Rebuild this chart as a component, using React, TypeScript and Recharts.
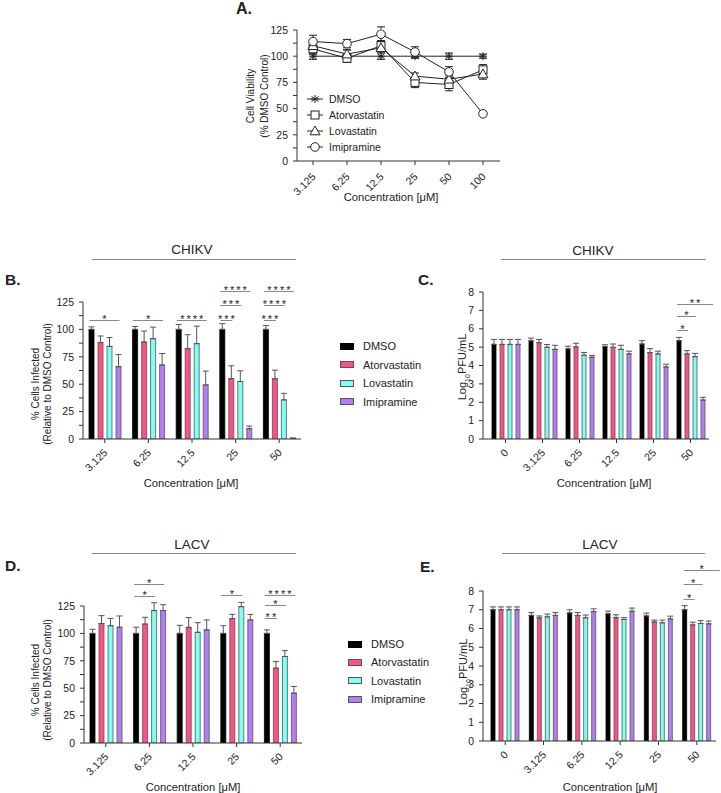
import { LineChart, Line, BarChart, Bar, XAxis, YAxis, ErrorBar } from 'recharts'

const FONT = '"Liberation Sans", Arial, Helvetica, sans-serif'
const INK = '#222'
const AXIS = '#333'

// series shared by every panel
const drugs = ['DMSO', 'Atorvastatin', 'Lovastatin', 'Imipramine']
const drugKeys = ['dmso', 'ator', 'lova', 'imip']
const markerShapes = ['star', 'square', 'triangle', 'circle']
const barFills = ['#000000', '#ff4f86', '#7ffff4', '#b57cf7']
const barEdges = ['#000000', '#555555', '#555555', '#555555']

// A. cell viability (% DMSO control)
const viabilityDoses = ['3.125', '6.25', '12.5', '25', '50', '100']
const viabilityDmso = [100, 100, 100, 100, 100, 100]
const viabilityDmsoErr = [3, 6, 3, 2, 3, 2]
const viabilityAtor = [107, 98, 110, 75, 73, 87]
const viabilityAtorErr = [5, 3, 5, 5, 6, 5]
const viabilityLova = [110, 102, 108, 81, 78, 83]
const viabilityLovaErr = [6, 4, 4, 3, 4, 5]
const viabilityImip = [114, 112, 121, 104, 85, 45]
const viabilityImipErr = [6, 4, 7, 5, 5, 1]

// B. CHIKV % cells infected
const infectDoses = ['3.125', '6.25', '12.5', '25', '50']
const chikvInfDmso = [100, 100, 100, 100, 100]
const chikvInfDmsoErr = [2.3, 2.6, 4.4, 5.3, 3.5]
const chikvInfAtor = [88, 88.5, 82.5, 55, 55]
const chikvInfAtorErr = [6, 10, 12.7, 11.8, 7.8]
const chikvInfLova = [84.5, 91.5, 87, 52.5, 35.7]
const chikvInfLovaErr = [8, 10.6, 16, 9.7, 6]
const chikvInfImip = [66, 67.5, 49.3, 9.4, 0.6]
const chikvInfImipErr = [11, 10.5, 12.7, 2.4, 0.3]

// C. CHIKV titre (log10 PFU/mL)
const titreDoses = ['0', '3.125', '6.25', '12.5', '25', '50']
const chikvPfuDmso = [5.15, 5.34, 4.9, 5.03, 5.17, 5.35]
const chikvPfuDmsoErr = [0.27, 0.15, 0.15, 0.1, 0.18, 0.18]
const chikvPfuAtor = [5.15, 5.24, 5.01, 4.99, 4.7, 4.63]
const chikvPfuAtorErr = [0.27, 0.18, 0.2, 0.18, 0.22, 0.18]
const chikvPfuLova = [5.15, 4.99, 4.56, 4.88, 4.63, 4.48]
const chikvPfuLovaErr = [0.27, 0.15, 0.15, 0.22, 0.15, 0.18]
const chikvPfuImip = [5.15, 4.88, 4.45, 4.63, 3.92, 2.12]
const chikvPfuImipErr = [0.27, 0.22, 0.1, 0.15, 0.15, 0.15]

// D. LACV % cells infected
const lacvInfDmso = [100, 100, 100, 100, 100]
const lacvInfDmsoErr = [3.8, 5.6, 7.4, 7, 3.2]
const lacvInfAtor = [109, 108.5, 105.5, 113.5, 68.3]
const lacvInfAtorErr = [7.2, 6.2, 8.9, 3.9, 6]
const lacvInfLova = [107, 120.8, 101, 124.4, 78.9]
const lacvInfLovaErr = [6.7, 7.2, 8.8, 3.9, 5.4]
const lacvInfImip = [105.6, 120.8, 103.2, 112.3, 45.5]
const lacvInfImipErr = [10.3, 5.4, 9.1, 5.1, 6.1]

// E. LACV titre (log10 PFU/mL)
const lacvPfuDmso = [7.0, 6.7, 6.83, 6.78, 6.67, 7.0]
const lacvPfuDmsoErr = [0.15, 0.15, 0.17, 0.15, 0.15, 0.22]
const lacvPfuAtor = [7.0, 6.57, 6.7, 6.58, 6.35, 6.19]
const lacvPfuAtorErr = [0.15, 0.1, 0.15, 0.15, 0.1, 0.15]
const lacvPfuLova = [7.0, 6.62, 6.57, 6.48, 6.3, 6.27]
const lacvPfuLovaErr = [0.15, 0.15, 0.15, 0.1, 0.15, 0.15]
const lacvPfuImip = [7.0, 6.7, 6.9, 6.92, 6.51, 6.25]
const lacvPfuImipErr = [0.15, 0.15, 0.15, 0.17, 0.15, 0.15]

// significance brackets: [dose index, compared series index, height (data units), label]
const chikvInfSig: [number, number, number, string][] = [
  [0, 3, 109, '*'], [1, 3, 109, '*'], [2, 3, 109, '****'],
  [3, 1, 109, '***'], [3, 2, 122.5, '***'], [3, 3, 135, '****'],
  [4, 1, 109, '***'], [4, 2, 122.5, '****'], [4, 3, 135, '****'],
]
const chikvPfuSig: [number, number, number, string][] = [
  [5, 1, 5.93, '*'], [5, 2, 6.7, '*'], [5, 3, 7.35, '**'],
]
const lacvInfSig: [number, number, number, string][] = [
  [1, 2, 134, '*'], [1, 3, 145, '*'], [3, 2, 135, '*'],
  [4, 1, 114, '**'], [4, 2, 125.6, '*'], [4, 3, 135, '****'],
]
const lacvPfuSig: [number, number, number, string][] = [
  [5, 1, 7.6, '*'], [5, 2, 8.4, '*'], [5, 3, 9.1, '*'],
]

const pctTicks = [0, 12.5, 25, 37.5, 50, 62.5, 75, 87.5, 100, 112.5, 125]
const logTicks = [0, 1, 2, 3, 4, 5, 6, 7, 8]
const pctFormat = (v: number) => (v % 25 === 0 ? String(v) : '')

// layout: plot rectangles in page pixels
const AXIS_W = 40
const PAD_T = 10
const PAD_R = 4
const XAXIS_H = 50

interface Frame { x0: number; x1: number; y0: number; y1: number }
interface BarLayout { frame: Frame; padLeft: number; yMax: number; n: number; barSize: number; barGap: number }

const frameA: Frame = { x0: 297, x1: 500, y0: 30, y1: 161 }
const layoutB: BarLayout = { frame: { x0: 83, x1: 301, y0: 302, y1: 439 }, padLeft: 0, yMax: 125, n: 5, barSize: 5, barGap: 4 }
const layoutC: BarLayout = { frame: { x0: 483, x1: 709, y0: 292, y1: 439 }, padLeft: 4, yMax: 8, n: 6, barSize: 4, barGap: 4 }
const layoutD: BarLayout = { frame: { x0: 84, x1: 302, y0: 606, y1: 743 }, padLeft: 0, yMax: 125, n: 5, barSize: 5, barGap: 4 }
const layoutE: BarLayout = { frame: { x0: 483, x1: 716, y0: 591, y1: 741 }, padLeft: 3, yMax: 8, n: 6, barSize: 4, barGap: 4 }

function buildRows(doses: string[], series: number[][], errs: number[][], oneSided: boolean) {
  return doses.map((dose, i) => {
    const row: Record<string, unknown> = { dose }
    drugKeys.forEach((k, j) => {
      row[k] = series[j][i]
      row[k + 'Err'] = oneSided ? [0, errs[j][i]] : errs[j][i]
    })
    return row
  })
}

const viabilityRows = buildRows(
  viabilityDoses,
  [viabilityDmso, viabilityAtor, viabilityLova, viabilityImip],
  [viabilityDmsoErr, viabilityAtorErr, viabilityLovaErr, viabilityImipErr],
  false,
)
const chikvInfRows = buildRows(
  infectDoses,
  [chikvInfDmso, chikvInfAtor, chikvInfLova, chikvInfImip],
  [chikvInfDmsoErr, chikvInfAtorErr, chikvInfLovaErr, chikvInfImipErr],
  true,
)
const chikvPfuRows = buildRows(
  titreDoses,
  [chikvPfuDmso, chikvPfuAtor, chikvPfuLova, chikvPfuImip],
  [chikvPfuDmsoErr, chikvPfuAtorErr, chikvPfuLovaErr, chikvPfuImipErr],
  true,
)
const lacvInfRows = buildRows(
  infectDoses,
  [lacvInfDmso, lacvInfAtor, lacvInfLova, lacvInfImip],
  [lacvInfDmsoErr, lacvInfAtorErr, lacvInfLovaErr, lacvInfImipErr],
  true,
)
const lacvPfuRows = buildRows(
  titreDoses,
  [lacvPfuDmso, lacvPfuAtor, lacvPfuLova, lacvPfuImip],
  [lacvPfuDmsoErr, lacvPfuAtorErr, lacvPfuLovaErr, lacvPfuImipErr],
  true,
)

function SlantTick(props: any) {
  const { x, y, payload } = props
  return (
    <g transform={`translate(${x - 2},${y})`}>
      <text x={0} y={0} dy="0.72em" textAnchor="end" transform="rotate(-45)" fontSize={10.5} fill={INK}>
        {payload.value}
      </text>
    </g>
  )
}

function Marker({ shape, cx, cy }: { shape: string; cx: number; cy: number }) {
  if (shape === 'star') {
    return (
      <g stroke={INK} strokeWidth={1}>
        <line x1={cx} y1={cy - 4} x2={cx} y2={cy + 4} />
        <line x1={cx - 3.5} y1={cy - 2.5} x2={cx + 3.5} y2={cy + 2.5} />
        <line x1={cx - 3.5} y1={cy + 2.5} x2={cx + 3.5} y2={cy - 2.5} />
        <line x1={cx - 4} y1={cy} x2={cx + 4} y2={cy} />
      </g>
    )
  }
  if (shape === 'square') return <rect x={cx - 4} y={cy - 4} width={8} height={8} fill="#fff" stroke={INK} />
  if (shape === 'triangle') {
    return <polygon points={`${cx},${cy - 5} ${cx - 5},${cy + 3.8} ${cx + 5},${cy + 3.8}`} fill="#fff" stroke={INK} />
  }
  return <circle cx={cx} cy={cy} r={4.3} fill="#fff" stroke={INK} />
}

function ViabilityChart() {
  const f = frameA
  const width = f.x1 - f.x0 + AXIS_W + PAD_R
  const height = f.y1 - f.y0 + PAD_T + XAXIS_H
  return (
    <div style={{ position: 'absolute', left: f.x0 - AXIS_W, top: f.y0 - PAD_T }}>
      <LineChart width={width} height={height} data={viabilityRows} margin={{ top: PAD_T, right: PAD_R, bottom: 0, left: 0 }}>
        <XAxis dataKey="dose" height={XAXIS_H} padding={{ left: 16, right: 17 }} interval={0}
          tickSize={4} tickMargin={7} stroke={AXIS} tick={(p: any) => <SlantTick {...p} />} />
        <YAxis width={AXIS_W} domain={[0, 125]} ticks={pctTicks} tickFormatter={pctFormat} interval={0}
          allowDataOverflow tickSize={4} tickMargin={5} stroke={AXIS} tick={{ fontSize: 10.5, fill: INK }} />
        {drugKeys.map((k, j) => (
          <Line key={k} dataKey={k} stroke={INK} strokeWidth={1} isAnimationActive={false}
            dot={(p: any) => <Marker key={`${k}-${p.index}`} shape={markerShapes[j]} cx={p.cx} cy={p.cy} />}>
            <ErrorBar dataKey={k + 'Err'} width={4} stroke={INK} strokeWidth={1} direction="y" isAnimationActive={false} />
          </Line>
        ))}
      </LineChart>
    </div>
  )
}

function BarPanel({ layout, rows, yTicks, yFormat }: {
  layout: BarLayout; rows: Record<string, unknown>[]; yTicks: number[]; yFormat?: (v: number) => string
}) {
  const f = layout.frame
  const width = f.x1 - f.x0 + AXIS_W + PAD_R
  const height = f.y1 - f.y0 + PAD_T + XAXIS_H
  return (
    <div style={{ position: 'absolute', left: f.x0 - AXIS_W, top: f.y0 - PAD_T }}>
      <BarChart width={width} height={height} data={rows} margin={{ top: PAD_T, right: PAD_R, bottom: 0, left: 0 }}
        barSize={layout.barSize} barGap={layout.barGap}>
        <XAxis dataKey="dose" height={XAXIS_H} padding={{ left: layout.padLeft, right: 0 }} interval={0}
          tickSize={4} tickMargin={5} stroke={AXIS} tick={(p: any) => <SlantTick {...p} />} />
        <YAxis width={AXIS_W} domain={[0, layout.yMax]} ticks={yTicks} tickFormatter={yFormat} interval={0}
          allowDataOverflow tickSize={4} tickMargin={5} stroke={AXIS} tick={{ fontSize: 10.5, fill: INK }} />
        {drugKeys.map((k, j) => (
          <Bar key={k} dataKey={k} fill={barFills[j]} stroke={barEdges[j]} strokeWidth={0.8} isAnimationActive={false}>
            <ErrorBar dataKey={k + 'Err'} width={3} stroke="#555" strokeWidth={1} direction="y" isAnimationActive={false} />
          </Bar>
        ))}
      </BarChart>
    </div>
  )
}

// bar positions follow recharts' band + barSize/barGap layout
function barCenter(l: BarLayout, group: number, series: number) {
  const band = (l.frame.x1 - l.frame.x0 - l.padLeft) / l.n
  const sum = drugKeys.length * l.barSize + (drugKeys.length - 1) * l.barGap
  const offset = ((band - sum) / 2) >> 0
  return l.frame.x0 + l.padLeft + group * band + offset + series * (l.barSize + l.barGap) + l.barSize / 2
}
function yPix(l: BarLayout, v: number) {
  return l.frame.y1 - (v / l.yMax) * (l.frame.y1 - l.frame.y0)
}

function Brackets({ layout, sig, overhang }: { layout: BarLayout; sig: [number, number, number, string][]; overhang: number }) {
  return (
    <g>
      {sig.map(([g, s, v, label], i) => {
        const xa = barCenter(layout, g, 0) - 1
        const xb = barCenter(layout, g, s) + 2 + (s === 3 ? overhang : 0)
        const y = Math.round(yPix(layout, v)) + 0.5
        return (
          <g key={i}>
            <line x1={xa} y1={y} x2={xb} y2={y} stroke="#888" strokeWidth={1} />
            <text x={(xa + xb) / 2 + 1} y={y + 2} textAnchor="middle" fontSize={11} letterSpacing={2} fill={INK}>{label}</text>
          </g>
        )
      })}
    </g>
  )
}

function Txt({ x, y, size, bold, rotate, left, lh, children }: {
  x: number; y: number; size: number; bold?: boolean; rotate?: boolean; left?: boolean; lh?: number; children: React.ReactNode
}) {
  return (
    <div style={{
      position: 'absolute', left: x, top: y,
      transform: `translate(${left ? '0' : '-50%'},-50%)${rotate ? ' rotate(-90deg)' : ''}`,
      fontSize: size, fontWeight: bold ? 700 : 400, whiteSpace: 'nowrap', textAlign: 'center',
      lineHeight: lh ? `${lh}px` : 1.15, color: INK,
    }}>
      {children}
    </div>
  )
}

function BarLegend({ x, y, gap }: { x: number; y: number; gap: number }) {
  return (
    <>
      {drugs.map((d, j) => (
        <div key={d} style={{ position: 'absolute', left: x, top: y + j * gap - 6, height: 12, display: 'flex', alignItems: 'center', fontSize: 11, color: INK }}>
          <span style={{ width: 14, height: 7, background: barFills[j], border: `1px solid ${barEdges[j]}`, boxSizing: 'border-box', marginRight: 9 }} />
          {d}
        </div>
      ))}
    </>
  )
}

const pfuLabel = <span>Log<sub style={{ fontSize: 7 }}>10</sub>PFU/mL</span>

export default function App() {
  return (
    <div style={{ position: 'absolute', left: 0, top: 0, width: 721, height: 793, background: '#fff', fontFamily: FONT, overflow: 'hidden' }}>
      <ViabilityChart />
      <BarPanel layout={layoutB} rows={chikvInfRows} yTicks={pctTicks} yFormat={pctFormat} />
      <BarPanel layout={layoutC} rows={chikvPfuRows} yTicks={logTicks} />
      <BarPanel layout={layoutD} rows={lacvInfRows} yTicks={pctTicks} yFormat={pctFormat} />
      <BarPanel layout={layoutE} rows={lacvPfuRows} yTicks={logTicks} />

      {/* panel A legend sits inside the plot */}
      {drugs.map((d, j) => (
        <div key={d} style={{ position: 'absolute', left: 306, top: 99 + j * 16.1 - 7, height: 14, display: 'flex', alignItems: 'center', fontSize: 10.5, color: INK }}>
          <svg width={18} height={14} style={{ marginRight: 5 }}>
            <line x1={1} y1={7} x2={17} y2={7} stroke={INK} />
            <Marker shape={markerShapes[j]} cx={9} cy={7} />
          </svg>
          {d}
        </div>
      ))}
      <BarLegend x={340} y={346} gap={18.6} />
      <BarLegend x={348} y={644} gap={18.4} />

      <svg width={721} height={793} style={{ position: 'absolute', left: 0, top: 0, pointerEvents: 'none' }}>
        <line x1={92} y1={259.5} x2={296} y2={259.5} stroke="#888" />
        <line x1={501} y1={259.5} x2={706} y2={259.5} stroke="#888" />
        <line x1={92} y1={553.5} x2={296} y2={553.5} stroke="#888" />
        <line x1={502} y1={553.5} x2={705} y2={553.5} stroke="#888" />
        <Brackets layout={layoutB} sig={chikvInfSig} overhang={0} />
        <Brackets layout={layoutC} sig={chikvPfuSig} overhang={9} />
        <Brackets layout={layoutD} sig={lacvInfSig} overhang={0} />
        <Brackets layout={layoutE} sig={lacvPfuSig} overhang={9} />
      </svg>

      <Txt x={236} y={9} size={16} bold left>A.</Txt>
      <Txt x={5} y={280} size={15.5} bold left>B.</Txt>
      <Txt x={418} y={280} size={15.5} bold left>C.</Txt>
      <Txt x={5} y={566} size={15.5} bold left>D.</Txt>
      <Txt x={420} y={567} size={15.5} bold left>E.</Txt>

      <Txt x={192} y={250} size={13.5}>CHIKV</Txt>
      <Txt x={593} y={251} size={13.5}>CHIKV</Txt>
      <Txt x={192} y={545} size={13.5}>LACV</Txt>
      <Txt x={600} y={545} size={13.5}>LACV</Txt>

      <Txt x={256.5} y={96} size={10} rotate lh={13.5}>Cell Viability<br />(% DMSO Control)</Txt>
      <Txt x={40.5} y={384} size={10} rotate lh={11.5}>% Cells Infected<br />(Relative to DMSO Control)</Txt>
      <Txt x={40.5} y={680} size={10} rotate lh={11.5}>% Cells Infected<br />(Relative to DMSO Control)</Txt>
      <Txt x={463.5} y={367} size={11} rotate>{pfuLabel}</Txt>
      <Txt x={465} y={672} size={11} rotate>{pfuLabel}</Txt>

      <Txt x={391} y={197} size={11.2}>Concentration [μM]</Txt>
      <Txt x={191} y={483} size={11.2}>Concentration [μM]</Txt>
      <Txt x={604} y={483} size={11.2}>Concentration [μM]</Txt>
      <Txt x={193} y={787} size={11.2}>Concentration [μM]</Txt>
      <Txt x={610} y={787} size={11.2}>Concentration [μM]</Txt>
    </div>
  )
}
